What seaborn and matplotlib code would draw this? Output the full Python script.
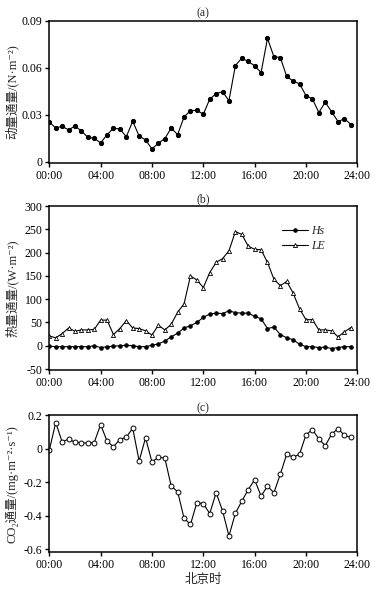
import numpy as np
import pandas as pd
import matplotlib
matplotlib.use("Agg")
import matplotlib.pyplot as plt
import seaborn as sns

# ---- data (half-hourly, 00:00 - 23:30) ----
hours = [i * 0.5 for i in range(48)]
tick_hours = [0, 4, 8, 12, 16, 20, 24]
tick_labels = ["00:00", "04:00", "08:00", "12:00", "16:00", "20:00", "24:00"]

momentum = [0.0254, 0.0215, 0.0226, 0.0203, 0.0228, 0.0196, 0.0156, 0.0151,
            0.0119, 0.0173, 0.0213, 0.0209, 0.0160, 0.0258, 0.0164, 0.0139,
            0.0081, 0.0119, 0.0147, 0.0215, 0.0173, 0.0286, 0.0326, 0.0328,
            0.0303, 0.0399, 0.0435, 0.0446, 0.0390, 0.0614, 0.0661, 0.0640,
            0.0612, 0.0569, 0.0787, 0.0670, 0.0665, 0.0544, 0.0514, 0.0497,
            0.0422, 0.0401, 0.0314, 0.0380, 0.0318, 0.0256, 0.0275, 0.0237]

hs = [-1, -2, -2, -2, -2, -2, -2, 0, -4, -2, -1, 0, 1, 0, -2, -2,
      1, 4, 10, 19, 27, 38, 43, 50, 61, 68, 70, 69, 75, 71, 70, 70,
      63, 58, 37, 40, 24, 17, 13, 3, -2, -2, -4, -3, -6, -4, -2, -2]

le = [21, 17, 26, 38, 31, 34, 34, 35, 55, 55, 24, 37, 54, 38, 37, 32,
      23, 44, 34, 46, 72, 90, 150, 141, 125, 157, 179, 187, 204, 245, 239, 214,
      207, 206, 179, 143, 129, 138, 113, 79, 56, 56, 34, 34, 32, 19, 30, 39]

co2 = [-0.010, 0.155, 0.040, 0.056, 0.038, 0.034, 0.033, 0.036,
       0.143, 0.044, 0.011, 0.054, 0.068, 0.121, -0.074, 0.064,
       -0.080, -0.052, -0.056, -0.224, -0.257, -0.415, -0.452, -0.322,
       -0.328, -0.387, -0.263, -0.371, -0.521, -0.385, -0.314, -0.244,
       -0.186, -0.283, -0.224, -0.263, -0.153, -0.033, -0.052, -0.033,
       0.082, 0.113, 0.058, 0.017, 0.086, 0.119, 0.078, 0.066]

df = pd.DataFrame({"hour": hours, "momentum": momentum, "Hs": hs, "LE": le, "co2": co2})

# ---- style ----
sns.set_style("ticks")
FAM = ["Liberation Serif", "Noto Sans CJK SC", "DejaVu Sans"]
plt.rcParams["font.family"] = FAM
plt.rcParams["axes.unicode_minus"] = False
plt.rcParams["axes.linewidth"] = 1.1
plt.rcParams["xtick.major.width"] = 1.0
plt.rcParams["ytick.major.width"] = 1.0
plt.rcParams["xtick.major.size"] = 3
plt.rcParams["ytick.major.size"] = 3
plt.rcParams["xtick.direction"] = "out"
plt.rcParams["ytick.direction"] = "out"

FS = 8.5
LFS = 9
fig = plt.figure(figsize=(3.86, 5.91), dpi=100)
ax_a = fig.add_axes([0.1277, 0.7237, 0.798, 0.2413])
ax_b = fig.add_axes([0.1277, 0.3734, 0.798, 0.2780])
ax_c = fig.add_axes([0.1277, 0.0655, 0.798, 0.2323])

lw = 0.8
# (a)
sns.lineplot(data=df, x="hour", y="momentum", ax=ax_a, color="black", lw=lw,
             marker="o", markersize=3, markeredgecolor="black", markerfacecolor="black")
ax_a.set_ylim(-0.001, 0.09)
ax_a.set_yticks([0, 0.03, 0.06, 0.09])
ax_a.set_yticklabels(["0", "0.03", "0.06", "0.09"])
ax_a.set_ylabel("动量通量/(N·m⁻²)", fontsize=LFS, family=FAM)
ax_a.set_title("(a)", fontsize=FS, pad=3)

# (b)
sns.lineplot(data=df, x="hour", y="Hs", ax=ax_b, color="black", lw=lw,
             marker="o", markersize=2.5, markeredgecolor="black", markerfacecolor="black",
             label="Hs")
sns.lineplot(data=df, x="hour", y="LE", ax=ax_b, color="black", lw=lw,
             marker="^", markersize=3, markeredgecolor="black", markerfacecolor="white",
             markeredgewidth=0.6, label="LE")
ax_b.set_ylim(-52.8, 300)
ax_b.set_yticks(list(range(-50, 301, 50)))
ax_b.set_ylabel("热量通量/(W·m⁻²)", fontsize=LFS, family=FAM)
ax_b.set_title("(b)", fontsize=FS, pad=3)
leg = ax_b.legend(loc="upper right", bbox_to_anchor=(0.93, 0.95), frameon=False,
                  fontsize=FS, handlelength=2.2, labelspacing=0.3, handletextpad=0.3)
for t in leg.get_texts():
    t.set_fontstyle("italic")

# (c)
sns.lineplot(data=df, x="hour", y="co2", ax=ax_c, color="black", lw=lw,
             marker="o", markersize=3.5, markeredgecolor="black", markerfacecolor="white",
             markeredgewidth=0.7)
ax_c.set_ylim(-0.618, 0.2)
ax_c.set_yticks([-0.6, -0.4, -0.2, 0, 0.2])
ax_c.set_yticklabels(["-0.6", "-0.4", "-0.2", "0", "0.2"])
ax_c.set_ylabel("CO₂通量/(mg·m⁻²·s⁻¹)", fontsize=LFS, family=FAM)
ax_c.set_title("(c)", fontsize=FS, pad=3)
ax_c.set_xlabel("北京时", fontsize=LFS, family=FAM)
ax_c.xaxis.set_label_coords(0.5, -0.16)

for ax in (ax_a, ax_b, ax_c):
    ax.set_xlim(0, 24)
    ax.set_xticks(tick_hours)
    ax.set_xticklabels(tick_labels)
    ax.tick_params(labelsize=FS, pad=2, colors="black")
    ax.yaxis.set_label_coords(-0.10, 0.5)
    if ax is not ax_c:
        ax.set_xlabel("")
    for s in ax.spines.values():
        s.set_visible(True)
        s.set_color("black")

fig.savefig("out.png", dpi=100, facecolor="white")
